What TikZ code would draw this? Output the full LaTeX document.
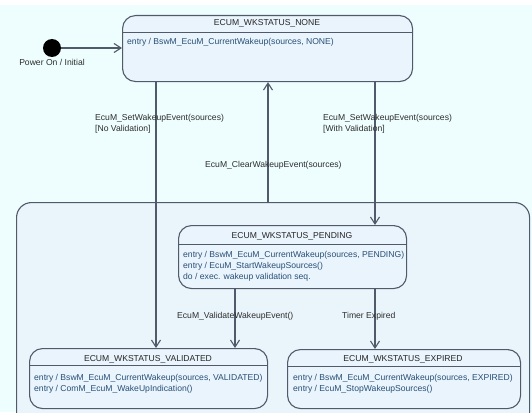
\documentclass[tikz,border=0pt]{standalone}
\usepackage{fontspec}
\setmainfont{Liberation Sans}
\usetikzlibrary{arrows.meta}
\definecolor{bgc}{RGB}{238,254,254}
\definecolor{compc}{RGB}{234,245,251}
\definecolor{statec}{RGB}{234,244,252}
\definecolor{linec}{RGB}{80,90,106}
\definecolor{entryc}{RGB}{40,80,120}
\definecolor{labc}{RGB}{45,45,45}
\begin{document}
\begin{tikzpicture}[x=1pt,y=-1pt,
  every node/.style={font=\fontsize{8.6}{11}\selectfont, inner sep=0pt},
  statebox/.style={draw=linec, line width=1.1pt, fill=statec, rounded corners=13pt, anchor=north west},
  hdr/.style={draw=linec, line width=0.9pt},
  ttl/.style={anchor=base, text=black!85},
  ent/.style={anchor=base west, text=entryc},
  lab/.style={anchor=base west, text=labc},
  arr/.style={draw=linec, line width=1.1pt, -{Straight Barb[length=7pt,width=9pt]}},
]
\fill[white] (0,0) rectangle (532,412);
\fill[bgc] (0,5) rectangle (532,412);
\useasboundingbox (0,0) rectangle (532,412);

\begin{scope}
  \clip (0,0) rectangle (532,412);
  \node[draw=linec, line width=1.1pt, fill=compc, rounded corners=15pt, anchor=north west,
        minimum width=513pt, minimum height=240pt] (comp) at (16,202) {};
\end{scope}

% states
\node[statebox, minimum width=290pt, minimum height=66pt] (none) at (122,15) {};
\node[statebox, minimum width=228pt, minimum height=63pt] (pending) at (178,225) {};
\node[statebox, minimum width=238pt, minimum height=60pt] (validated) at (29,348) {};
\node[statebox, minimum width=233pt, minimum height=59pt] (expired) at (287,349) {};

\draw[hdr] (none.west |- 0,32) -- (none.east |- 0,32);
\draw[hdr] (pending.west |- 0,244) -- (pending.east |- 0,244);
\draw[hdr] (validated.west |- 0,365) -- (validated.east |- 0,365);
\draw[hdr] (expired.west |- 0,366) -- (expired.east |- 0,366);

% initial
\node[circle, fill=black, minimum size=18pt] (init) at (52,48) {};
\node[anchor=base, text=labc] (initlab) at (52,65) {Power On / Initial};

% connector coordinates
\coordinate (xa) at (156,0);
\coordinate (xb) at (268,0);
\coordinate (xc) at (375,0);
\coordinate (xd) at (235,0);

\draw[arr] (init) -- (init -| none.west);
\draw[arr] (none.south -| xa) -- (validated.north -| xa);
\draw[arr] (comp.north -| xb) -- (none.south -| xb);
\draw[arr] (none.south -| xc) -- (pending.north -| xc);
\draw[arr] (pending.south -| xd) -- (validated.north -| xd);
\draw[arr] (pending.south -| xc) -- (expired.north -| xc);

% state texts
\node[ttl] (t1) at (267,26) {ECUM\_WKSTATUS\_NONE};
\node[ent] (e1) at (127,45) {entry / BswM\_EcuM\_CurrentWakeup(sources, NONE)};

\node[ttl] (t2) at (292,238) {ECUM\_WKSTATUS\_PENDING};
\node[ent] (e2a) at (183,257) {entry / BswM\_EcuM\_CurrentWakeup(sources, PENDING)};
\node[ent] (e2b) at (183,268) {entry / EcuM\_StartWakeupSources()};
\node[ent] (e2c) at (183,279) {do / exec. wakeup validation seq.};

\node[ttl] (t3) at (148,361) {ECUM\_WKSTATUS\_VALIDATED};
\node[ent] (e3a) at (34,380) {entry / BswM\_EcuM\_CurrentWakeup(sources, VALIDATED)};
\node[ent] (e3b) at (34,391) {entry / ComM\_EcuM\_WakeUpIndication()};

\node[ttl] (t4) at (403,361) {ECUM\_WKSTATUS\_EXPIRED};
\node[ent] (e4a) at (293,380) {entry / BswM\_EcuM\_CurrentWakeup(sources, EXPIRED)};
\node[ent] (e4b) at (293,391) {entry / EcuM\_StopWakeupSources()};

% transition labels
\node[lab] (l1a) at (95,120) {EcuM\_SetWakeupEvent(sources)};
\node[lab] (l1b) at (95,131) {[No Validation]};
\node[lab] (l2a) at (323,120) {EcuM\_SetWakeupEvent(sources)};
\node[lab] (l2b) at (323,131) {[With Validation]};
\node[lab] (l3) at (205,167) {EcuM\_ClearWakeupEvent(sources)};
\node[lab] (l4) at (177,318) {EcuM\_ValidateWakeupEvent()};
\node[lab] (l5) at (342,318) {Timer Expired};
\end{tikzpicture}
\end{document}
